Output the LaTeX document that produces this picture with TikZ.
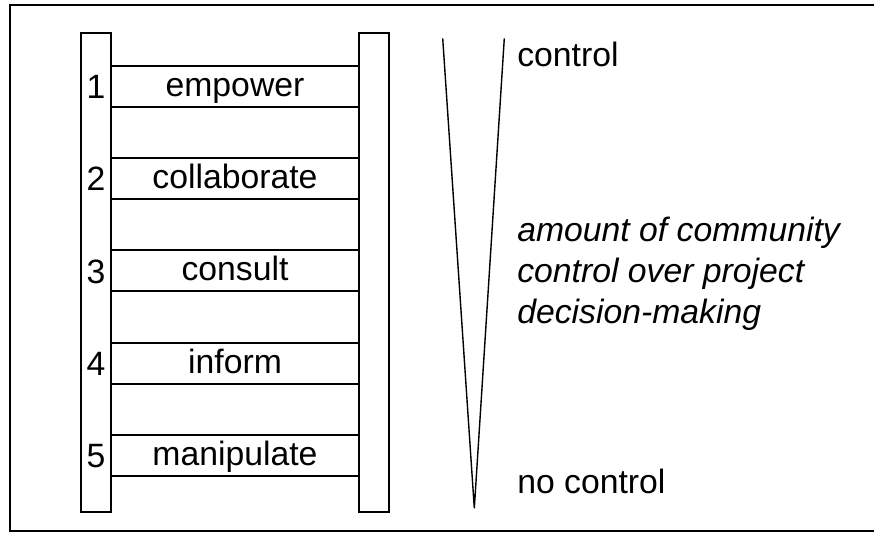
\documentclass[tikz,border=0pt]{standalone}
\usepackage{fontspec}
\setmainfont{Liberation Sans}
\usetikzlibrary{positioning}
\tikzstyle{frame}=[draw, line width=1.7pt]
\tikzstyle{rail}=[draw, line width=1.1pt, minimum width=0.6cm, minimum height=9.6cm, inner sep=0pt]
\tikzstyle{rung}=[draw, line width=1.1pt, minimum width=4.96cm, minimum height=0.82cm, inner sep=0pt,% text sits in the middle of the step
text height=13.4pt, text depth=2pt, font=\fontsize{19.2}{22}\selectfont]
\tikzstyle{num}=[inner sep=0pt, font=\fontsize{19.2}{22}\selectfont]
\tikzstyle{vline}=[line width=0.8pt, line join=miter]
\tikzstyle{side}=[inner sep=0pt, anchor=base west, font=\fontsize{19.2}{23.3}\selectfont]

\begin{document}
\begin{tikzpicture}[x=0.02cm,y=-0.02cm]
\useasboundingbox (0,0) rectangle (874,533);
\draw[frame] (874,5) -- (10,5) -- (10,531) -- (874,531);
% the two rails of the ladder
\node[rail] (lrail) at (96,272.5) {};
\node[rail] (rrail) at (374,272.5) {};
% steps and their numbers
\foreach \txt [count=\i] in {empower,collaborate,consult,inform,manipulate} {
  \node[rung] (rung\i) at (235,{86.5+92.2*(\i-1)}) {\txt};
  \node[num] (num\i) at (96,{87+92.2*(\i-1)}) {\i};
}
% the narrowing wedge
\coordinate (vtl) at (442.7,38.3);
\coordinate (vtr) at (504.3,38.3);
\coordinate (vb) at (474.3,508.3);
\draw[vline] (vtl) -- (vb) -- (vtr);
\node[side] (ctrl) at (517,66.7) {control};
\node[side, align=left, font=\fontsize{19.2}{23.3}\selectfont\itshape] (amount) at (517,323) {amount of community\\control over project\\decision-making};
\node[side] (noctrl) at (517,493) {no control};
\end{tikzpicture}
\end{document}
